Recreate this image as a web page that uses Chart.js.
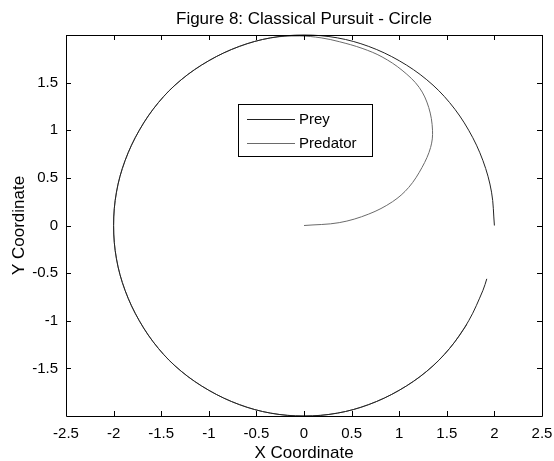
<!DOCTYPE html>
<html>
<head>
<meta charset="utf-8">
<script src="https://cdn.jsdelivr.net/npm/chart.js@4/dist/chart.umd.min.js"></script>
<style>
  html, body { margin: 0; padding: 0; background: #ffffff; }
  #wrap { width: 554px; height: 461px; }
</style>
</head>
<body>
<div id="wrap"><canvas id="chart" width="554" height="461"></canvas></div>
<script>
// Labels
const chartTitle = 'Figure 8: Classical Pursuit - Circle';
const xAxisTitle = 'X Coordinate';
const yAxisTitle = 'Y Coordinate';
const seriesNames = ['Prey', 'Predator'];

// Tick labels
const xTicks = [-2.5, -2, -1.5, -1, -0.5, 0, 0.5, 1, 1.5, 2, 2.5];
const yTicks = [-1.5, -1, -0.5, 0, 0.5, 1, 1.5];

// Prey path (runs counter-clockwise round the circle)
const preyX = [2.00, 1.97, 1.88, 1.73, 1.53, 1.29, 1.00, 0.68, 0.35, 0.00,
  -0.35, -0.68, -1.00, -1.29, -1.53, -1.73, -1.88, -1.97, -2.00,
  -1.97, -1.88, -1.73, -1.53, -1.29, -1.00, -0.68, -0.35, 0.00,
  0.35, 0.68, 1.00, 1.29, 1.53, 1.73, 1.88, 1.92];
const preyY = [0.00, 0.35, 0.68, 1.00, 1.29, 1.53, 1.73, 1.88, 1.97, 2.00,
  1.97, 1.88, 1.73, 1.53, 1.29, 1.00, 0.68, 0.35, 0.00,
  -0.35, -0.68, -1.00, -1.29, -1.53, -1.73, -1.88, -1.97, -2.00,
  -1.97, -1.88, -1.73, -1.53, -1.29, -1.00, -0.68, -0.56];

// Predator path (starts at the origin and closes in on the prey's circle)
const predX = [0.00, 0.37, 0.68, 0.93, 1.10, 1.24, 1.33, 1.35, 1.31, 1.21, 1.03,
  0.82, 0.61, 0.37, 0.18, -0.05,
  -0.35, -0.68, -1.00, -1.29, -1.53, -1.73, -1.88, -1.97, -2.00,
  -1.97, -1.88, -1.73, -1.53, -1.29, -1.00, -0.68, -0.35, 0.00,
  0.35, 0.68, 1.00, 1.29, 1.53, 1.71];
const predY = [0.00, 0.03, 0.12, 0.25, 0.40, 0.61, 0.82, 1.00, 1.24, 1.45, 1.63,
  1.77, 1.86, 1.93, 1.97, 1.99,
  1.97, 1.88, 1.73, 1.53, 1.29, 1.00, 0.68, 0.35, 0.00,
  -0.35, -0.68, -1.00, -1.29, -1.53, -1.73, -1.88, -1.97, -2.00,
  -1.97, -1.88, -1.73, -1.53, -1.29, -1.04];

const seriesColors = ['#222222', '#6a6a6a'];

const toPoints = (xs, ys) => xs.map((x, i) => ({ x: x, y: ys[i] }));

const FONT = '"Liberation Sans", Arial, sans-serif';

// Axes box with inward ticks on all four sides, titles and the boxed legend
const decorations = {
  id: 'decorations',
  afterDraw(chart) {
    const ctx = chart.ctx;
    const a = chart.chartArea;
    const xs = chart.scales.x, ys = chart.scales.y;
    const tl = 5;
    ctx.save();
    ctx.strokeStyle = '#000';
    ctx.lineWidth = 1;
    ctx.beginPath();
    ctx.rect(Math.round(a.left) + 0.5, Math.round(a.top) + 0.5,
      Math.round(a.right - a.left), Math.round(a.bottom - a.top));
    ctx.stroke();
    ctx.beginPath();
    xTicks.forEach(v => {
      const px = Math.round(xs.getPixelForValue(v)) + 0.5;
      ctx.moveTo(px, a.bottom); ctx.lineTo(px, a.bottom - tl);
      ctx.moveTo(px, a.top); ctx.lineTo(px, a.top + tl);
    });
    yTicks.forEach(v => {
      const py = Math.round(ys.getPixelForValue(v)) + 0.5;
      ctx.moveTo(a.left, py); ctx.lineTo(a.left + tl, py);
      ctx.moveTo(a.right, py); ctx.lineTo(a.right - tl, py);
    });
    ctx.stroke();

    // title and axis titles
    ctx.fillStyle = '#000';
    ctx.font = '17px ' + FONT;
    ctx.textAlign = 'center';
    ctx.textBaseline = 'alphabetic';
    ctx.fillText(chartTitle, (a.left + a.right) / 2, 24);
    ctx.fillText(xAxisTitle, (a.left + a.right) / 2, 458);
    ctx.save();
    ctx.translate(24, (a.top + a.bottom) / 2);
    ctx.rotate(-Math.PI / 2);
    ctx.fillText(yAxisTitle, 0, 0);
    ctx.restore();

    // legend
    const lx = 238.5, ly = 104.5, lw = 134, lh = 52;
    ctx.fillStyle = '#fff';
    ctx.fillRect(lx, ly, lw, lh);
    ctx.strokeStyle = '#000';
    ctx.strokeRect(lx, ly, lw, lh);
    ctx.font = '15px ' + FONT;
    ctx.textAlign = 'left';
    ctx.textBaseline = 'middle';
    chart.data.datasets.forEach((ds, i) => {
      const y = Math.round(ly + 14 + i * 24) + 0.5;
      ctx.strokeStyle = ds.borderColor;
      ctx.beginPath();
      ctx.moveTo(247, y); ctx.lineTo(295, y);
      ctx.stroke();
      ctx.fillStyle = '#000';
      ctx.fillText(ds.label, 299, y);
    });
    ctx.restore();
  }
};

new Chart(document.getElementById('chart'), {
  type: 'scatter',
  data: {
    datasets: [
      { label: seriesNames[0], data: toPoints(preyX, preyY), borderColor: seriesColors[0] },
      { label: seriesNames[1], data: toPoints(predX, predY), borderColor: seriesColors[1] }
    ].map(d => Object.assign(d, {
      showLine: true, pointRadius: 0, borderWidth: 1, tension: 0.35, fill: false, clip: 2
    }))
  },
  options: {
    responsive: false,
    animation: false,
    devicePixelRatio: 1,
    layout: { padding: { top: 35, right: 12, left: 0, bottom: 0 } },
    plugins: { legend: { display: false }, title: { display: false }, tooltip: { enabled: false } },
    scales: {
      x: {
        type: 'linear', min: -2.5, max: 2.5,
        grid: { display: false, drawTicks: false },
        border: { display: false },
        afterBuildTicks: s => { s.ticks = xTicks.map(v => ({ value: v })); },
        afterFit: s => { s.height = 45; s.paddingLeft = 0; s.paddingRight = 0; },
        ticks: { color: '#000', padding: 9, maxRotation: 0, autoSkip: false,
          font: { family: FONT, size: 15 }, callback: v => String(v) }
      },
      y: {
        type: 'linear', min: -2, max: 2,
        grid: { display: false, drawTicks: false },
        border: { display: false },
        afterBuildTicks: s => { s.ticks = yTicks.map(v => ({ value: v })); },
        afterFit: s => { s.width = 66; s.paddingTop = 0; s.paddingBottom = 0; },
        ticks: { color: '#000', padding: 8, autoSkip: false,
          font: { family: FONT, size: 15 }, callback: v => String(v) }
      }
    }
  },
  plugins: [decorations]
});
</script>
</body>
</html>
